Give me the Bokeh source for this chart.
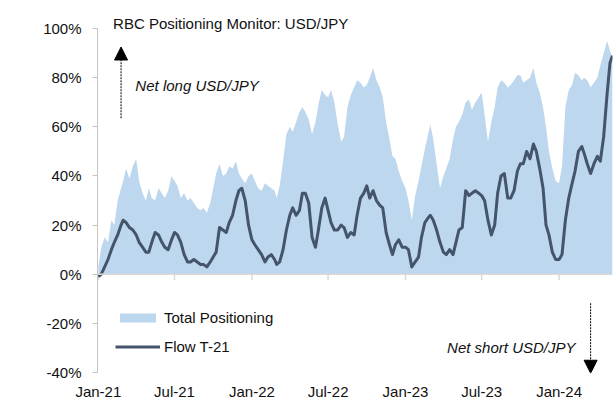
import pandas as pd
from bokeh.plotting import figure
from bokeh.models import (Range1d, FixedTicker, Span, Label, Arrow, NormalHead,
                          Legend, LegendItem, PrintfTickFormatter)
from bokeh.embed import file_html
from bokeh.resources import INLINE

# ---------------- data ----------------
# weekly observation dates: 1st, 8th, 16th, 24th of each month Jan-21 .. Apr-24, then early May-24
months = pd.date_range("2021-01-01", "2024-04-01", freq="MS")
dates = [m + pd.Timedelta(days=d - 1) for m in months for d in (1, 8, 16, 24)]
dates += [pd.Timestamp("2024-05-01"), pd.Timestamp("2024-05-07")]

total_positioning = [
    # 2021
    3, 11, 15, 13,   22, 20, 30, 35,   38, 43, 39, 44,   47, 38, 33, 30,
    35, 31, 30, 35,  33, 31, 34, 40,   38, 36, 31, 33,   30, 31, 29, 27,
    26, 27, 25, 29,  35, 41, 45, 40,   41, 44, 43, 46,   41, 39, 37, 40,
    # 2022
    41, 38, 35, 34,  37, 36, 35, 34,   31, 36, 46, 57,   60, 58, 62, 66,
    68, 66, 63, 57,  62, 69, 75, 73,   72, 75, 70, 61,   54, 56, 68, 73,
    76, 79, 78, 76,  77, 80, 84, 79,   76, 72, 62, 55,   48, 47, 42, 38,
    # 2023
    35, 30, 22, 32,  38, 44, 51, 57,   61, 55, 45, 35,   40, 43, 47, 55,
    60, 62, 65, 70,  71, 67, 70, 72,   74, 65, 54, 62,   68, 76, 79, 78,
    76, 77, 79, 81,  81, 78, 79, 80,   84, 78, 74, 68,   60, 50, 43, 38,
    # 2024
    37, 44, 68, 75,  77, 82, 81, 79,   80, 79, 76, 78,   80, 85, 90, 95,
    91, 88,
]

flow_t21 = [
    # 2021
    -1, 0, 3, 6,     10, 13, 16, 20,   22, 21, 19, 18,   16, 13, 11, 9,
    9, 13, 17, 16,   13, 11, 10, 14,   17, 16, 13, 8,    5, 5, 6, 5,
    4, 4, 3, 5,      7, 9, 19, 18,     17, 21, 24, 30,   34, 35, 30, 20,
    # 2022
    14, 12, 10, 8,   5, 7, 8, 6,       4, 5, 10, 18,     24, 27, 24, 26,
    33, 33, 29, 15,  11, 18, 27, 31,   26, 21, 18, 18,   20, 19, 15, 17,
    16, 24, 31, 33,  36, 31, 34, 30,   28, 27, 17, 12,   8, 12, 14, 11,
    # 2023
    11, 10, 3, 5,    7, 15, 21, 23,    24, 22, 18, 13,   9, 8, 10, 8,
    13, 18, 19, 34,  32, 33, 34, 33,   32, 30, 22, 16,   20, 33, 40, 41,
    31, 31, 34, 42,  45, 45, 50, 47,   53, 50, 43, 35,   20, 16, 9, 6,
    # 2024
    6, 8, 22, 31,    37, 42, 50, 52,   49, 45, 41, 45,   48, 46, 56, 73,
    86, 89,
]

tick_dates = ["2021-01-01", "2021-07-01", "2022-01-01", "2022-07-01",
              "2023-01-01", "2023-07-01", "2024-01-01"]
tick_labels = ["Jan-21", "Jul-21", "Jan-22", "Jul-22", "Jan-23", "Jul-23", "Jan-24"]
y_ticks = [-40, -20, 0, 20, 40, 60, 80, 100]

def ms(d):
    return pd.Timestamp(d).value / 1e6

FONT = "Liberation Sans"
AREA_C = "#BDD7EE"
LINE_C = "#44546A"
AXIS_C = "#C4C4C4"
TEXT_C = "#111111"

p = figure(width=613, height=402, x_axis_type="datetime",
           x_range=Range1d(ms("2020-12-30"), ms("2024-05-07")),
           y_range=Range1d(-40, 109.4),
           output_backend="svg", toolbar_location=None,
           min_border_left=97, min_border_right=1,
           min_border_top=5, min_border_bottom=30)
p.outline_line_color = None
p.xgrid.visible = False
p.ygrid.visible = False
p.background_fill_color = "white"

# y axis
ya = p.yaxis[0]
ya.ticker = FixedTicker(ticks=y_ticks)
ya.formatter = PrintfTickFormatter(format="%d%%")
ya.bounds = (-40, 100)
ya.axis_line_color = AXIS_C
ya.major_tick_line_color = AXIS_C
ya.major_tick_out = 5
ya.major_tick_in = 0
ya.minor_tick_line_color = None
ya.major_label_text_font = FONT
ya.major_label_text_font_size = "15px"
ya.major_label_text_color = TEXT_C
ya.major_label_standoff = 11

# x axis (labels only, at bottom)
tick_ms = [ms(d) for d in tick_dates]
xa = p.xaxis[0]
xa.ticker = FixedTicker(ticks=tick_ms)
xa.major_label_overrides = {t: l for t, l in zip(tick_ms, tick_labels)}
xa.axis_line_color = None
xa.major_tick_line_color = None
xa.minor_tick_line_color = None
xa.major_label_text_font = FONT
xa.major_label_text_font_size = "15px"
xa.major_label_text_color = TEXT_C
xa.major_label_standoff = 4

# data
area_r = p.varea(x=dates, y1=0, y2=total_positioning, fill_color=AREA_C, fill_alpha=1)
p.add_layout(Span(location=0, dimension="width", line_color="#D9D9D9", line_width=1.5))
p.segment(x0=[pd.Timestamp(d) for d in tick_dates], y0=0,
          x1=[pd.Timestamp(d) for d in tick_dates], y1=-2.3,
          line_color="#D9D9D9", line_width=1.5)
line_r = p.line(x=dates, y=flow_t21, line_color=LINE_C, line_width=3, line_join="round")

legend = Legend(items=[LegendItem(label="Total Positioning", renderers=[area_r]),
                       LegendItem(label="Flow T-21", renderers=[line_r])],
                location=(18, 17), glyph_width=45, glyph_height=11,
                label_height=11, spacing=12, padding=0, margin=0,
                border_line_color=None, background_fill_alpha=0,
                label_text_font=FONT, label_text_font_size="15px",
                label_text_color=TEXT_C, label_standoff=4)
p.add_layout(legend)

# annotations
p.add_layout(Label(x=ms("2021-02-05"), y=101.9, text="RBC Positioning Monitor: USD/JPY",
                   text_font=FONT, text_font_size="15px", text_color=TEXT_C,
                   text_baseline="middle"))
p.add_layout(Label(x=ms("2021-03-30"), y=76.9, text="Net long USD/JPY",
                   text_font=FONT, text_font_size="15px", text_font_style="italic",
                   text_color=TEXT_C, text_baseline="middle"))
p.add_layout(Label(x=ms("2024-02-09"), y=-29.7, text="Net short USD/JPY",
                   text_font=FONT, text_font_size="15px", text_font_style="italic",
                   text_color=TEXT_C, text_baseline="middle", text_align="right"))
p.add_layout(Arrow(end=NormalHead(size=13, fill_color="black", line_color="black", line_width=1),
                   x_start=ms("2021-02-24"), y_start=63.5, x_end=ms("2021-02-24"), y_end=92.5,
                   line_color="black", line_width=1, line_dash="2 1"))
p.add_layout(Arrow(end=NormalHead(size=13, fill_color="black", line_color="black", line_width=1),
                   x_start=ms("2024-03-16"), y_start=-11.8, x_end=ms("2024-03-16"), y_end=-40.3,
                   line_color="black", line_width=1, line_dash="2 1"))

open("out.html", "w").write(file_html(p, INLINE))
